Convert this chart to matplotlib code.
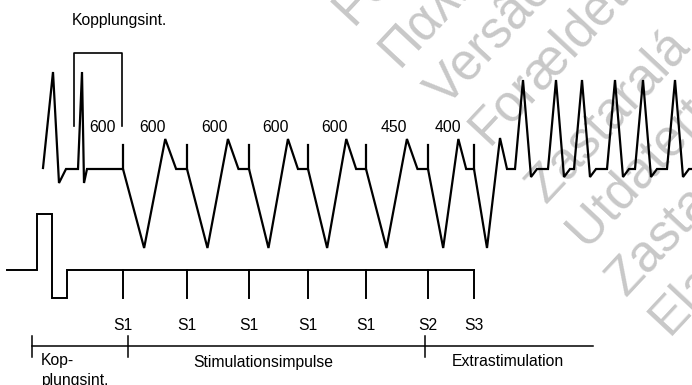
import matplotlib
matplotlib.use("Agg")
import matplotlib.pyplot as plt

# ---------------- data (diagram units = pixels of the original) ----------------
pace_times = [123, 187, 249, 308, 366, 428, 474]          # S1 x5, S2, S3
stim_labels = ["S1", "S1", "S1", "S1", "S1", "S2", "S3"]
interval_labels = ["600", "600", "600", "600", "600", "450", "400"]
coupling_bracket = [74, 122]                               # Kopplungsint. bracket
sinus_peaks = [53, 82]                                     # intrinsic beats before pacing
tachy_peaks = [523, 556, 582, 615, 643, 675]               # induced tachycardia
induced_beat = [487, 500, 507, 515]                        # trough, peak, return, flat end
timeline_ticks = [32, 128, 425]
timeline_end = 593
section_labels = ["Stimulationsimpulse", "Extrastimulation"]
section_label_x = [263, 508]
watermark_words = ["Föråldrad", "Παλιά", "Versão obsoleta", "Forældet",
                   "Zastaralá", "Utdatert", "Zastaraná", "Elavult"]
watermark_xy = [(352, 26), (398, 68), (446, 108), (488, 146), (546, 205),
                (586, 248), (626, 298), (668, 336)]

# levels
BASE = 169
PACE_TOP = 145
TROUGH = 248
T_PEAK = 139
SINUS_TOP = 72
QRS_LOW = 183
TACHY_TOP = 80
TACHY_LOW = 177
STIM_BASE = 270
STIM_TICK = 298
PULSE_TOP = 214

FONT = "Liberation Sans"
FS = 11.3

fig = plt.figure(figsize=(6.92, 3.85), dpi=100)
ax = fig.add_axes([0, 0, 1, 1])
ax.set_xlim(0, 692)
ax.set_ylim(385, 0)
ax.axis("off")

# ---------------- watermark ----------------
for w, (wx, wy) in zip(watermark_words, watermark_xy):
    ax.text(wx, wy, w, rotation=47, rotation_mode="anchor", ha="left", va="baseline",
            fontsize=37, color="#c8c8c8", family=[FONT, "DejaVu Sans"], zorder=0)

# ---------------- upper ECG trace ----------------
cx = [43, sinus_peaks[0], sinus_peaks[0] + 6, sinus_peaks[0] + 13,
      sinus_peaks[1] - 4, sinus_peaks[1], sinus_peaks[1] + 2, sinus_peaks[1] + 5]
cy = [168, SINUS_TOP, QRS_LOW, BASE, BASE, SINUS_TOP, QRS_LOW, BASE]
for i, t in enumerate(pace_times[:-1]):
    d = pace_times[i + 1] - t
    cx += [t, t + 0.33 * d, t + 0.66 * d, t + 0.83 * d]
    cy += [BASE, TROUGH, T_PEAK, BASE]
t = pace_times[-1]
cx += [t] + induced_beat
cy += [BASE, TROUGH, T_PEAK - 1, BASE, BASE]
for j, p in enumerate(tachy_peaks):
    cx += [p - 8, p, p + 8, p + 14]
    cy += [BASE, TACHY_TOP, TACHY_LOW, BASE]
cx.append(692)
cy.append(BASE)
ax.plot(cx, cy, color="black", lw=1.6, solid_joinstyle="miter", zorder=2)

# pacing spikes on ECG
for t in pace_times:
    ax.plot([t, t], [PACE_TOP, BASE], color="black", lw=1.6, zorder=2)

# coupling interval bracket
b0, b1 = coupling_bracket
ax.plot([b0, b0, b1, b1], [126, 53, 53, 126], color="black", lw=1.2, zorder=2)
ax.text(119, 21, "Kopplungsint.", ha="center", va="center", fontsize=FS, family=FONT)

# interval labels
label_x = [(b0 + b1) / 2 + 5] + [(pace_times[i] + pace_times[i + 1]) / 2 - 3
                                 for i in range(len(pace_times) - 1)]
for lx, lab in zip(label_x, interval_labels):
    ax.text(lx, 127, lab, ha="center", va="center", fontsize=FS, family=FONT)

# ---------------- stimulus trace ----------------
sx = [7, 37, 37, 52, 52, 67, 67, pace_times[-1]]
sy = [STIM_BASE, STIM_BASE, PULSE_TOP, PULSE_TOP, STIM_TICK, STIM_TICK, STIM_BASE, STIM_BASE]
ax.plot(sx, sy, color="black", lw=1.4, solid_joinstyle="miter", zorder=2)
for t, lab in zip(pace_times, stim_labels):
    ax.plot([t, t], [STIM_BASE, STIM_TICK], color="black", lw=1.4, zorder=2)
    ax.text(t, 325, lab, ha="center", va="center", fontsize=FS, family=FONT)

# ---------------- bottom timeline ----------------
ax.plot([timeline_ticks[0], timeline_end], [346, 346], color="black", lw=1.1)
for tx in timeline_ticks:
    ax.plot([tx, tx], [336, 357], color="black", lw=1.1)
ax.text(41, 361, "Kop-", ha="left", va="center", fontsize=FS, family=FONT)
ax.text(41, 380, "plungsint.", ha="left", va="center", fontsize=FS, family=FONT)
for lx, lab in zip(section_label_x, section_labels):
    ax.text(lx, 362, lab, ha="center", va="center", fontsize=FS, family=FONT)

fig.savefig("out.png", dpi=100)
